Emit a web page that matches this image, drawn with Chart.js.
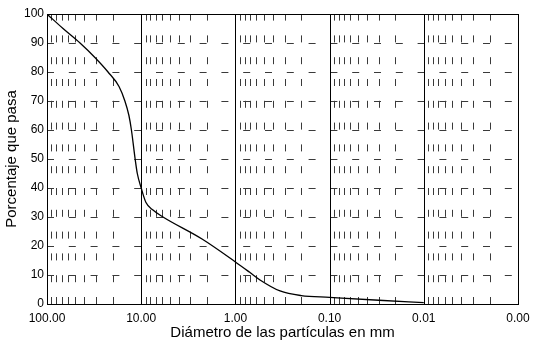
<!DOCTYPE html>
<html>
<head>
<meta charset="utf-8">
<script src="https://cdn.jsdelivr.net/npm/chart.js@4/dist/chart.umd.min.js"></script>
<style>
  html, body { margin: 0; padding: 0; background: #fff; }
  #wrap { width: 533px; height: 347px; }
</style>
</head>
<body>
<div id="wrap"><canvas id="granulometria"></canvas></div>
<script>
// Curva granulométrica: diámetro (mm) vs porcentaje que pasa
const diametros = [100, 67.6, 44.6, 31, 22.5, 17.2, 14.9, 13.5, 12.7, 11.6, 11.0, 10, 8.9, 7.5, 5.87, 2.26, 1.0, 0.71, 0.548, 0.336, 0.2, 0.1, 0.03, 0.01];
const pasa      = [100, 95,   90,   85, 80,   75,   70,   65,   60,   50,   45,   40, 35,  32.4, 30,  22.4, 14.5, 11, 8.3,   4.5,   2.9, 2.3, 1.3,  0.5];

// Escalas
const decadas = [100, 10, 1, 0.1, 0.01, 0.001];
const pasosMenores = [2, 3, 4, 5, 6, 7, 8, 9];
const marcasY = [0, 10, 20, 30, 40, 50, 60, 70, 80, 90, 100];

const FUENTE = "'Liberation Sans', Arial, sans-serif";

// Cuadrícula con líneas discontinuas, dibujada antes de la curva
const cuadricula = {
  id: 'cuadricula',
  beforeDatasetsDraw(chart) {
    const { ctx, chartArea: a, scales: { x, y } } = chart;
    ctx.save();
    ctx.lineWidth = 1;
    ctx.strokeStyle = '#3a3a3a';

    // horizontales cada 10 %
    ctx.setLineDash([7, 14.8]);
    marcasY.slice(1, -1).forEach(v => {
      const py = Math.round(y.getPixelForValue(v)) + 0.5;
      ctx.beginPath();
      ctx.moveTo(a.left, py);
      ctx.lineTo(a.right, py);
      ctx.stroke();
    });

    // verticales menores (2..9 de cada década), trazadas de abajo hacia arriba
    decadas.slice(1).forEach(d => {
      pasosMenores.forEach(m => {
        const px = Math.round(x.getPixelForValue(d * m)) + 0.5;
        ctx.beginPath();
        ctx.moveTo(px, a.bottom);
        ctx.lineTo(px, a.top);
        ctx.stroke();
      });
    });

    // verticales de década, continuas
    ctx.setLineDash([]);
    ctx.strokeStyle = '#000';
    decadas.slice(1, -1).forEach(d => {
      const px = Math.round(x.getPixelForValue(d)) + 0.5;
      ctx.beginPath();
      ctx.moveTo(px, a.top);
      ctx.lineTo(px, a.bottom);
      ctx.stroke();
    });

    // marco
    ctx.strokeRect(Math.round(a.left) + 0.5, Math.round(a.top) + 0.5,
                   Math.round(a.right - a.left), Math.round(a.bottom - a.top));
    ctx.restore();
  }
};

new Chart(document.getElementById('granulometria'), {
  type: 'line',
  data: {
    datasets: [{
      data: diametros.map((d, i) => ({ x: d, y: pasa[i] })),
      borderColor: '#000',
      borderWidth: 1.3,
      pointRadius: 0,
      cubicInterpolationMode: 'monotone',
      fill: false
    }]
  },
  options: {
    responsive: true,
    maintainAspectRatio: false,
    animation: false,
    layout: { padding: { left: 0, top: 14, right: 15, bottom: 0 } },
    plugins: {
      legend: { display: false },
      tooltip: { enabled: false }
    },
    scales: {
      x: {
        type: 'logarithmic',
        reverse: true,
        min: 0.001,
        max: 100,
        afterBuildTicks: s => { s.ticks = decadas.map(v => ({ value: v })); },
        afterFit: s => { s.height = 43; s.paddingLeft = 0; s.paddingRight = 0; },
        grid: { display: false, drawTicks: false },
        border: { display: false },
        ticks: {
          color: '#000',
          font: { family: FUENTE, size: 12 },
          padding: 7,
          maxRotation: 0,
          autoSkip: false,
          callback: v => v.toFixed(2)
        },
        title: {
          display: true,
          text: 'Diámetro de las partículas en mm',
          color: '#000',
          font: { family: FUENTE, size: 15 },
          padding: { top: 0, bottom: 5 }
        }
      },
      y: {
        min: 0,
        max: 100,
        afterBuildTicks: s => { s.ticks = marcasY.map(v => ({ value: v })); },
        afterFit: s => { s.width = 47; s.paddingTop = 0; s.paddingBottom = 0; },
        grid: { display: false, drawTicks: false },
        border: { display: false },
        ticks: {
          color: '#000',
          font: { family: FUENTE, size: 12 },
          padding: 3
        },
        title: {
          display: true,
          text: 'Porcentaje que pasa',
          color: '#000',
          font: { family: FUENTE, size: 15 },
          padding: { top: 3, bottom: 0 }
        }
      }
    }
  },
  plugins: [cuadricula]
});
</script>
</body>
</html>
